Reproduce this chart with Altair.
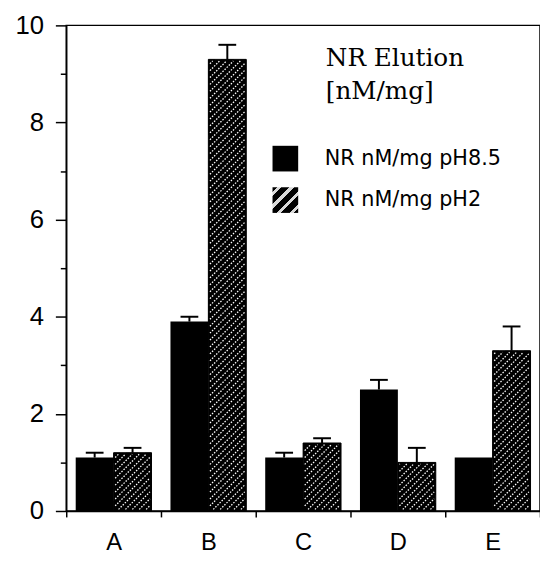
import altair as alt
import pandas as pd

# ---- data ----
categories = ["A", "B", "C", "D", "E"]
series_names = ["NR nM/mg pH8.5", "NR nM/mg pH2"]
ph85 = [1.1, 3.9, 1.1, 2.5, 1.1]
ph85_err = [0.1, 0.1, 0.1, 0.2, 0.0]
ph2 = [1.2, 9.3, 1.4, 1.0, 3.3]
ph2_err = [0.1, 0.3, 0.1, 0.3, 0.5]
y_ticks = list(range(0, 11))
x_ticks = list(range(0, 6))
title_lines = ["NR Elution", "[nM/mg]"]

# ---- layout ----
W, H = 480, 492
SX = W / len(categories)
SY = H / 10.0

rows = []
for i, c in enumerate(categories):
    rows.append(dict(cat=c, series=series_names[0], x0=i + 0.1, x1=i + 0.5, xc=i + 0.3,
                     value=ph85[i], err=ph85_err[i], top=ph85[i] + ph85_err[i]))
    rows.append(dict(cat=c, series=series_names[1], x0=i + 0.5, x1=i + 0.9, xc=i + 0.7,
                     value=ph2[i], err=ph2_err[i], top=ph2[i] + ph2_err[i]))
bars = pd.DataFrame(rows)
hatched = bars[bars.series == series_names[1]]
errs = bars[bars.err > 0]

# hatch pattern lines ("/") inside the pH2 bars, derived from the bar values
hrows = []
inset, gap = 1.6, 7.0
for _, r in hatched.iterrows():
    w_px = (r.x1 - r.x0) * SX
    h_px = r.value * SY
    c = -w_px
    while c < h_px:
        u0 = max(inset, inset - c)
        u1 = min(w_px - inset, h_px - inset - c)
        if u1 > u0:
            hrows.append(dict(hx=r.x0 + u0 / SX, hy=(u0 + c) / SY,
                              hx2=r.x0 + u1 / SX, hy2=(u1 + c) / SY))
        c += gap
hatch = pd.DataFrame(hrows)

# gradient used for the hatched legend symbol
stops = [(0.0, "black")]
n = 4
for k in range(n):
    cc = (k + 0.5) / n
    w = 0.04
    stops += [(cc - w, "black"), (cc - w, "#d8d8d8"), (cc + w, "#d8d8d8"), (cc + w, "black")]
stops.append((1.0, "black"))
grad = ("{gradient:'linear',x1:0,y1:0,x2:1,y2:1,stops:["
        + ",".join("{offset:%.3f,color:'%s'}" % s for s in stops) + "]}")

xs = alt.Scale(domain=[0, 5], nice=False, zero=False)
ys = alt.Scale(domain=[0, 10], nice=False)

x_axis = alt.Axis(
    title=None, values=x_ticks, grid=False,
    labelExpr="['A','B','C','D','E',''][datum.value]",
    labelOffset=SX / 2, labelFlush=False, labelOverlap=False, labelBound=False,
    tickSize=6, tickWidth=1.5, tickColor="black", domainColor="black", domainWidth=1.5,
    labelFont="Liberation Sans", labelFontSize=24, labelColor="black", labelPadding=14,
)
y_axis = alt.Axis(
    title=None, values=y_ticks, grid=False,
    labelExpr="datum.value % 2 === 0 ? datum.label : ''",
    tickSize={"condition": {"test": "datum.value % 2 === 0", "value": 11}, "value": 6},
    tickWidth=1.5, tickColor="black", domainColor="black", domainWidth=1.5,
    labelFont="Liberation Sans", labelFontSize=26, labelColor="black", labelPadding=12,
    labelFlush=False, labelOverlap=False,
)

legend = alt.Legend(
    title=None,
    orient="none", legendX=209, legendY=122, padding=0,
    symbolType="square", symbolSize=676, symbolStrokeWidth=0,
    labelFont="DejaVu Sans", labelFontSize=21, labelColor="black", labelOffset=27,
    rowPadding=16, labelLimit=400,
)

base = alt.Chart(bars).mark_bar().encode(
    x=alt.X("x0:Q", scale=xs, axis=x_axis),
    x2="x1:Q",
    y=alt.Y("value:Q", scale=ys, axis=y_axis, stack=None),
    y2=alt.datum(0),
    fill=alt.Fill("series:N", legend=legend,
                  scale=alt.Scale(domain=series_names, range=["black", alt.ExprRef(grad)])),
)

over = alt.Chart(hatched).mark_bar(fill="black", stroke="black", strokeWidth=1).encode(
    x=alt.X("x0:Q", scale=xs, axis=x_axis),
    x2="x1:Q",
    y=alt.Y("value:Q", scale=ys, axis=y_axis, stack=None),
    y2=alt.datum(0),
)

lines = alt.Chart(hatch).mark_rule(color="white", strokeWidth=1.3, strokeDash=[1.5, 1.5]).encode(
    x=alt.X("hx:Q", scale=xs, axis=x_axis),
    x2="hx2:Q",
    y=alt.Y("hy:Q", scale=ys, axis=y_axis),
    y2="hy2:Q",
)

err_rule = alt.Chart(errs).mark_rule(color="black", strokeWidth=2).encode(
    x=alt.X("xc:Q", scale=xs, axis=x_axis),
    y=alt.Y("value:Q", scale=ys, axis=y_axis),
    y2="top:Q",
)

err_cap = alt.Chart(errs).mark_tick(orient="horizontal", size=18, thickness=2, color="black", opacity=1).encode(
    x=alt.X("xc:Q", scale=xs, axis=x_axis),
    y=alt.Y("top:Q", scale=ys, axis=y_axis),
)

chart = alt.layer(base, over, lines, err_rule, err_cap).properties(
    width=W, height=H,
    autosize="none",
    padding={"left": 59, "top": 14, "right": 0, "bottom": 43},
    background="white",
    title=alt.TitleParams(
        text=title_lines, orient="top", anchor="start", frame="group",
        align="left", baseline="top", dx=263, dy=93, offset=0,
        font="DejaVu Serif", fontSize=25, fontWeight="normal", color="black", lineHeight=34,
    ),
).configure_view(stroke="black", strokeWidth=1.5)

chart.save("out.html", embed_options={"renderer": "svg", "actions": False})
